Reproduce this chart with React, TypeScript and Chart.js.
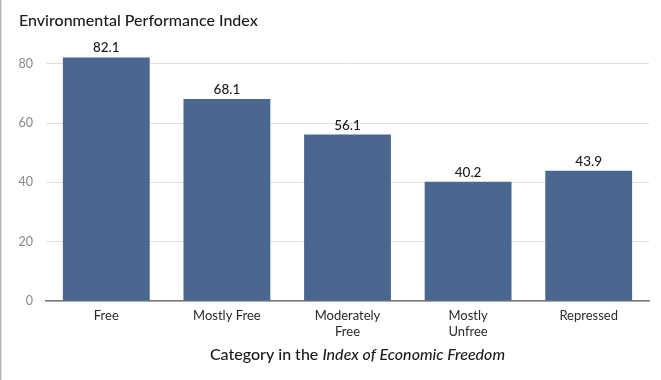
import React, { useEffect, useRef } from "react";
import { Chart, registerables } from "chart.js";

Chart.register(...registerables);

const categories: (string | string[])[] = [
  "Free",
  "Mostly Free",
  ["Moderately", "Free"],
  ["Mostly", "Unfree"],
  "Repressed",
];
const epiValues = [82.1, 68.1, 56.1, 40.2, 43.9];
const yTicks = [0, 20, 40, 60, 80];
const chartTitle = "Environmental Performance Index";
const xTitleParts = [
  { text: "Category in the ", italic: false },
  { text: "Index of Economic Freedom", italic: true },
];

const FONT = "Lato, 'Open Sans', sans-serif";

const decorPlugin = {
  id: "decor",
  afterDraw(chart: any) {
    const ctx = chart.ctx;
    ctx.save();
    // left border
    ctx.fillStyle = "#b5b5b5";
    ctx.fillRect(0, 0, 1.5, chart.height);
    // title
    ctx.fillStyle = "#1a1a1a";
    ctx.font = `500 16px ${FONT}`;
    ctx.textBaseline = "middle";
    ctx.textAlign = "left";
    ctx.fillText(chartTitle, 19, 21);
    // value labels
    const meta = chart.getDatasetMeta(0);
    ctx.font = `500 13.5px ${FONT}`;
    ctx.textAlign = "center";
    ctx.textBaseline = "alphabetic";
    ctx.fillStyle = "#1a1a1a";
    meta.data.forEach((bar: any, i: number) => {
      ctx.fillText(epiValues[i].toFixed(1), bar.x, bar.y - 5);
    });
    // x axis title with mixed styles
    const widths = xTitleParts.map((p) => {
      ctx.font = `${p.italic ? "italic " : ""}500 16px ${FONT}`;
      return ctx.measureText(p.text).width;
    });
    const total = widths.reduce((a, b) => a + b, 0);
    const area = chart.chartArea;
    let x = (area.left + area.right) / 2 - total / 2 + 10;
    ctx.textAlign = "left";
    ctx.textBaseline = "middle";
    ctx.fillStyle = "#1a1a1a";
    xTitleParts.forEach((p, i) => {
      ctx.font = `${p.italic ? "italic " : ""}500 16px ${FONT}`;
      ctx.fillText(p.text, x, 355);
      x += widths[i];
    });
    ctx.restore();
  },
};

export default function App() {
  const ref = useRef<HTMLCanvasElement>(null);
  useEffect(() => {
    if (!ref.current) return;
    const chart = new Chart(ref.current, {
      type: "bar",
      data: {
        labels: categories,
        datasets: [
          {
            data: epiValues,
            backgroundColor: "#4a6790",
            borderWidth: 0,
            categoryPercentage: 0.72,
            barPercentage: 1,
          },
        ],
      },
      options: {
        animation: false,
        responsive: false,
        maintainAspectRatio: false,
        layout: { padding: { top: 40, right: 12, left: 0, bottom: 0 } },
        plugins: {
          legend: { display: false },
          tooltip: { enabled: false },
          title: { display: false },
        },
        scales: {
          x: {
            grid: { display: false, drawTicks: false },
            border: { display: true, color: "#777", width: 1.5 },
            ticks: {
              color: "#2a2a2a",
              font: { family: FONT, size: 13 },
              padding: 7,
              maxRotation: 0,
              autoSkip: false,
            },
            afterFit(scale: any) {
              scale.height = 79;
            },
          },
          y: {
            min: 0,
            max: 88,
            afterBuildTicks(scale: any) {
              scale.ticks = yTicks.map((v) => ({ value: v }));
            },
            grid: { color: "#e0e0e0", lineWidth: 1, drawTicks: false },
            border: { display: false },
            ticks: {
              color: "#888",
              font: { family: FONT, size: 12.5 },
              padding: 13,
            },
            afterFit(scale: any) {
              scale.width = 46;
            },
          },
        },
      },
      plugins: [decorPlugin],
    });
    return () => chart.destroy();
  }, []);
  return (
    <div style={{ position: "fixed", left: 0, top: 0, width: 661, height: 380, background: "#fff" }}>
      <canvas ref={ref} width={661} height={380} style={{ display: "block" }} />
    </div>
  );
}
